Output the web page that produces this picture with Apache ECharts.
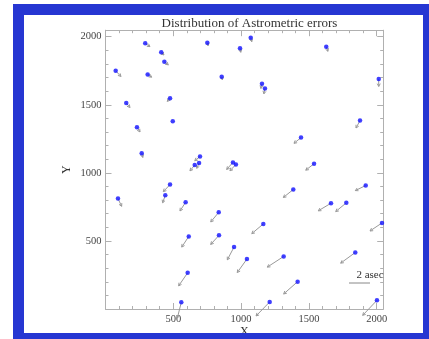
<!DOCTYPE html>
<html>
<head>
<meta charset="utf-8">
<script src="https://cdn.jsdelivr.net/npm/echarts@6/dist/echarts.min.js"></script>
<style>
html,body{margin:0;padding:0;background:#fff;}
#wrap{position:relative;width:429px;height:339px;overflow:hidden;background:#fff;}
#chart{position:absolute;left:0;top:0;width:429px;height:339px;}
#frame{position:absolute;left:13px;top:4px;width:416px;height:335px;box-sizing:border-box;border-style:solid;border-color:#2636d2;border-width:11px 6px 6px 11px;pointer-events:none;}
</style>
</head>
<body>
<div id="wrap"><div id="chart"></div><div id="frame"></div></div>
<script>
// star positions (pixel coordinates on the detector)
const starX = [293,751,1071,992,411,434,1628,75,311,857,1154,1176,2015,153,476,496,232,1877,267,1442,697,658,690,940,962,1538,92,476,441,591,1385,1919,1663,1776,835,1164,2039,614,837,948,1043,1314,1842,606,1417,559,1211,2002];
const starY = [1952,1956,1993,1915,1886,1816,1927,1750,1723,1706,1654,1620,1689,1514,1549,1379,1335,1384,1145,1259,1121,1057,1072,1077,1062,1067,811,914,836,784,878,907,777,780,710,625,632,533,541,455,367,386,415,266,201,49,52,64];
// astrometric errors (arcsec)
const errX = [0.45,0.07,0.10,0.07,0.26,0.38,0.16,0.50,0.38,0.06,-0.10,-0.10,0.00,0.35,-0.26,0.03,0.29,-0.38,0.10,-0.67,-0.50,-0.45,-0.22,-0.60,-0.57,-0.79,0.35,-0.64,-0.25,-0.54,-0.95,-0.99,-1.21,-1.01,-0.76,-1.10,-1.14,-0.67,-0.79,-0.64,-0.92,-1.56,-1.39,-0.86,-1.33,-0.38,-1.30,-1.36];
const errY = [-0.32,-0.29,-0.38,-0.38,-0.26,-0.29,-0.44,-0.54,-0.26,-0.29,-0.44,-0.51,-0.70,-0.44,-0.31,-0.03,-0.44,-0.70,-0.41,-0.54,-0.41,-0.54,-0.50,-0.67,-0.60,-0.61,-0.73,-0.67,-0.72,-0.82,-0.76,-0.48,-0.72,-0.83,-0.91,-0.92,-0.76,-1.01,-0.86,-1.21,-1.28,-1.01,-1.01,-1.24,-1.17,-1.50,-1.33,-1.43];
const xTicks = [500,1000,1500,2000];
const yTicks = [500,1000,1500,2000];
const AXIS_MAX = 2048;
const ASEC_TO_UNITS = 77.4; // arrow exaggeration: data units per arcsec
const SCALE_ASEC = 2;

const pts = starX.map((x,i)=>[x, starY[i]]);
const arrows = starX.map((x,i)=>[x, starY[i], errX[i], errY[i]]);

const serif = '"Liberation Serif","DejaVu Serif",serif';
const axisCol = '#b0b0b0';
const labCol = '#444';

function mkX(grid, pos, major, labels){
  return {
    type:'value', gridIndex:grid, position:pos, min:0, max:AXIS_MAX, interval: major?500:100,
    axisLine:{show:major, onZero:false, lineStyle:{color:axisCol,width:1}},
    axisTick:{show:true, inside:true, length: major?6:3, lineStyle:{color:axisCol}},
    axisLabel:{show:labels, showMinLabel:false, showMaxLabel:false, fontFamily:serif, fontSize:10.5, color:labCol, margin:5,
      formatter:(v)=> xTicks.indexOf(v)>=0 ? String(v) : ''},
    splitLine:{show:false},
    name: labels ? 'X' : '', nameLocation:'middle', nameGap:17, nameMoveOverlap:false,
    nameTextStyle:{fontFamily:serif, fontSize:12, color:'#333'}
  };
}
function mkY(grid, pos, major, labels){
  return {
    type:'value', gridIndex:grid, position:pos, min:0, max:AXIS_MAX, interval: major?500:100,
    axisLine:{show:major, onZero:false, lineStyle:{color:axisCol,width:1}},
    axisTick:{show:true, inside:true, length: major?6:3, lineStyle:{color:axisCol}},
    axisLabel:{show:labels, showMinLabel:false, showMaxLabel:false, fontFamily:serif, fontSize:10.5, color:labCol, margin:4,
      formatter:(v)=> yTicks.indexOf(v)>=0 ? String(v) : ''},
    splitLine:{show:false},
    name: labels ? 'Y' : '', nameLocation:'middle', nameGap:33, nameRotate:90, nameMoveOverlap:false,
    nameTextStyle:{fontFamily:serif, fontSize:12, color:'#333'}
  };
}

const gridBox = {left:105.5, top:30.2, width:277.7, height:278.8, containLabel:false, outerBoundsMode:'none'};

const chart = echarts.init(document.getElementById('chart'), null, {renderer:'canvas'});
chart.setOption({
  animation:false,
  backgroundColor:'transparent',
  title:{text:'Distribution of Astrometric errors', left:244.5, top:12, textAlign:'center',
    textStyle:{fontFamily:serif, fontSize:13, fontWeight:'normal', color:'#333'}},
  grid:[Object.assign({}, gridBox), Object.assign({}, gridBox)],
  xAxis:[mkX(0,'bottom',true,true), mkX(0,'top',true,false), mkX(1,'bottom',false,false), mkX(1,'top',false,false)],
  yAxis:[mkY(0,'left',true,true), mkY(0,'right',true,false), mkY(1,'left',false,false), mkY(1,'right',false,false)],
  series:[
    {
      type:'custom', xAxisIndex:0, yAxisIndex:0, clip:false, z:2,
      data: arrows,
      renderItem:function(params, api){
        const x=api.value(0), y=api.value(1);
        const p0 = api.coord([x,y]);
        const p1 = api.coord([x+api.value(2)*ASEC_TO_UNITS, y+api.value(3)*ASEC_TO_UNITS]);
        const dx=p1[0]-p0[0], dy=p1[1]-p0[1];
        const len=Math.hypot(dx,dy);
        const children=[{type:'line', shape:{x1:p0[0],y1:p0[1],x2:p1[0],y2:p1[1]}, style:{stroke:'#999',lineWidth:1}}];
        if(len>2){
          const ang=Math.atan2(dy,dx), h=3.2, a=0.5;
          children.push({type:'polyline', shape:{points:[
            [p1[0]-h*Math.cos(ang-a), p1[1]-h*Math.sin(ang-a)], p1,
            [p1[0]-h*Math.cos(ang+a), p1[1]-h*Math.sin(ang+a)]]}, style:{stroke:'#999',lineWidth:1,fill:null}});
        }
        return {type:'group', children};
      }
    },
    {
      type:'scatter', xAxisIndex:0, yAxisIndex:0, z:3, data:pts, symbol:'circle', symbolSize:4.5,
      itemStyle:{color:'#1010ff'}
    }
  ]
});

// scale bar of 2 arcsec
const xa = chart.convertToPixel({xAxisIndex:0}, 0);
const xb = chart.convertToPixel({xAxisIndex:0}, SCALE_ASEC*ASEC_TO_UNITS);
const barLen = xb - xa;
const barLeft = 349, barY = 283;
chart.setOption({
  graphic:[
    {type:'line', shape:{x1:barLeft, y1:barY, x2:barLeft+barLen, y2:barY}, style:{stroke:'#888', lineWidth:1}, z:10},
    {type:'text', x:370, y:275, style:{text: SCALE_ASEC+' asec', font:'11px '+serif, fill:'#333', align:'center', verticalAlign:'middle'}, z:10}
  ]
});
</script>
</body>
</html>
